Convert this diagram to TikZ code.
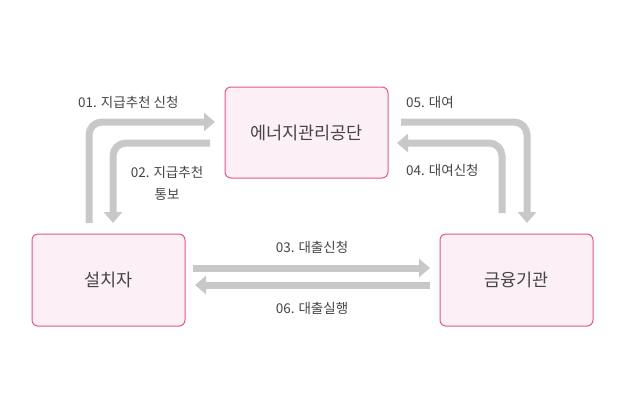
\documentclass[tikz,border=0pt]{standalone}
\usepackage{fontspec}
\setmainfont{Noto Sans CJK KR}
\usetikzlibrary{arrows.meta}
\definecolor{boxfill}{HTML}{FCF0F6}
\definecolor{boxline}{HTML}{E0588A}
\definecolor{arrowgray}{HTML}{C8C8C8}
\definecolor{txt}{HTML}{444444}
\tikzset{
  party/.style={draw=boxline, fill=boxfill, line width=1pt, rounded corners=6pt,
    minimum width=153pt, minimum height=92pt, inner sep=0pt, text=txt,
    font=\fontsize{17.5pt}{20pt}\selectfont},
  flow/.style={draw=arrowgray, line width=7pt, rounded corners=13pt,
    -{Triangle[width=18pt,length=11pt]}},
  lbl/.style={text=txt, font=\fontsize{13.5pt}{22pt}\selectfont, inner sep=0pt, align=center}
}
\begin{document}
\begin{tikzpicture}[x=1pt,y=-1pt]
\useasboundingbox (0,0) rectangle (624,410);
\node[party, minimum width=163pt, minimum height=91pt] (kemco) at (306.5,132.5) {에너지관리공단};
\node[party] (inst) at (108.5,280) {설치자};
\node[party] (bank) at (516.5,280) {금융기관};

\coordinate (a1s) at (89,223);
\coordinate (a1e) at (215,122);
\coordinate (a2s) at (210,143);
\coordinate (a2e) at (113,223);
\coordinate (a5s) at (401,122);
\coordinate (a5e) at (527,223);
\coordinate (a4s) at (502,213);
\coordinate (a4e) at (397,143);
\coordinate (a3s) at (193,268);
\coordinate (a3e) at (430,268);
\coordinate (a6s) at (430,285);
\coordinate (a6e) at (195,285);

\draw[flow] (a1s) |- (a1e);
\draw[flow] (a2s) -| (a2e);
\draw[flow] (a5s) -| (a5e);
\draw[flow] (a4s) |- (a4e);
\draw[flow] (a3s) -- (a3e);
\draw[flow] (a6s) -- (a6e);

\node[lbl, anchor=west] (l1) at (78,102) {01. 지급추천 신청};
\node[lbl] (l2) at (167,183) {02. 지급추천\\통보};
\node[lbl, anchor=west] (l5) at (406,102) {05. 대여};
\node[lbl, anchor=west] (l4) at (406,170) {04. 대여신청};
\node[lbl] (l3) at (312,247) {03. 대출신청};
\node[lbl] (l6) at (312,308) {06. 대출실행};
\end{tikzpicture}
\end{document}
